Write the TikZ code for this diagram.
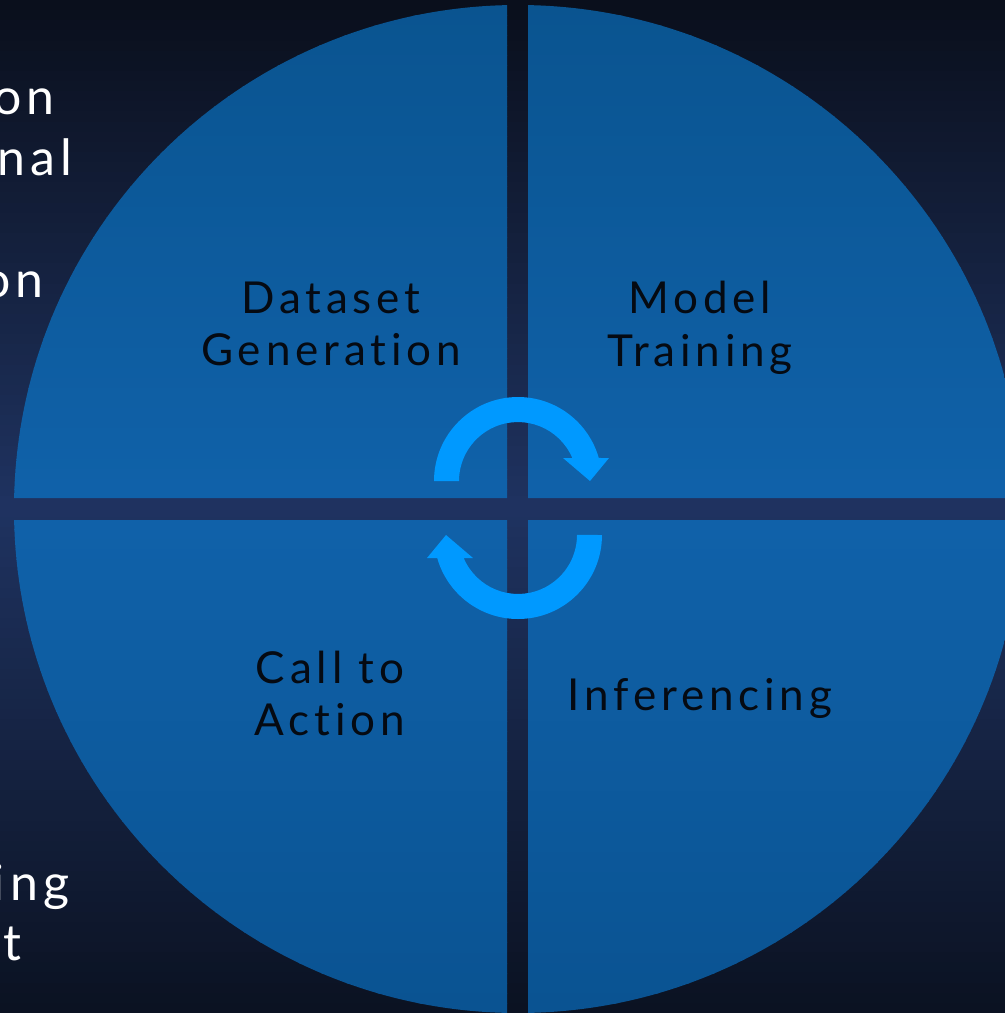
\documentclass[tikz,border=0pt]{standalone}
\usepackage{fontspec}
\newfontfamily\lblfont[LetterSpace=11,Ligatures=NoCommon]{Lato}
\definecolor{bgtop}{HTML}{0A0F1C}
\definecolor{bgmid}{HTML}{1F3361}
\definecolor{bgbot}{HTML}{0B1222}
\definecolor{ctop}{HTML}{0A5490}
\definecolor{cmid}{HTML}{1062AA}
\definecolor{cbot}{HTML}{0A5392}
\definecolor{arrowblue}{HTML}{0099FF}
\definecolor{ink}{HTML}{050A12}
\tikzset{
  lbl/.style={inner sep=0pt, anchor=base, text=ink, font=\lblfont\fontsize{44}{52}\selectfont},
  side/.style={inner sep=0pt, anchor=base east, text=white, font=\lblfont\fontsize{50}{58}\selectfont},
  cyclearrow/.style={fill=arrowblue, draw=none}
}
\begin{document}
\begin{tikzpicture}[x=1pt, y=1pt, yscale=-1]
\useasboundingbox (0,0) rectangle (1005,1013);
% background: vertical gradient made of strips
\foreach \i in {0,...,99}{
  \pgfmathsetmacro\ya{\i*10.13}
  \pgfmathsetmacro\yb{\ya+11}
  \pgfmathtruncatemacro\p{100-abs(\i-49.5)*100/49.5}
  \ifnum\i<50
    \fill[bgmid!\p!bgtop] (0,\ya) rectangle (1005,\yb);
  \else
    \fill[bgmid!\p!bgbot] (0,\ya) rectangle (1005,\yb);
  \fi
}
% partly hidden side texts
\node[side] (s1) at (55,114) {on};
\node[side] (s2) at (73,175) {nal};
\node[side] (s3) at (44,297) {on};
\node[side] (s4) at (70,900) {ing};
\node[side] (s5) at (22,960) {t};
% circle quadrants
\begin{scope}
  \clip (518,509) circle[radius=504];
  \clip (-10,-10) rectangle (507,498)
        (528,-10) rectangle (1015,498)
        (-10,520) rectangle (507,1023)
        (528,520) rectangle (1015,1023);
  \foreach \i in {0,...,99}{
    \pgfmathsetmacro\ya{5+\i*10.08}
    \pgfmathsetmacro\yb{\ya+11}
    \pgfmathtruncatemacro\p{100-abs(\i-49.5)*100/49.5}
    \ifnum\i<50
      \fill[cmid!\p!ctop] (0,\ya) rectangle (1005,\yb);
    \else
      \fill[cmid!\p!cbot] (0,\ya) rectangle (1005,\yb);
    \fi
  }
\end{scope}
% labels
\node[lbl] (dsA) at (331,313) {Dataset};
\node[lbl] (dsB) at (331,365) {Generation};
\node[lbl] (mtA) at (700,313) {Model};
\node[lbl] (mtB) at (700,366) {Training};
\node[lbl] (caA) at (330,683) {Call to};
\node[lbl] (caB) at (330,735) {Action};
\node[lbl] (inf) at (700,710) {Inferencing};
% cycle arrows
\fill[cyclearrow] (434,481) arc[start angle=180, end angle=344.1, radius=84]
  -- (609,458) -- (590,481) -- (563,458) -- (572.3,458)
  arc[start angle=337, end angle=180, radius=59] -- cycle;
\fill[cyclearrow] (602,535) arc[start angle=0, end angle=164.1, radius=84]
  -- (427,558) -- (446,535) -- (473,558) -- (463.7,558)
  arc[start angle=157, end angle=0, radius=59] -- cycle;
\end{tikzpicture}
\end{document}
